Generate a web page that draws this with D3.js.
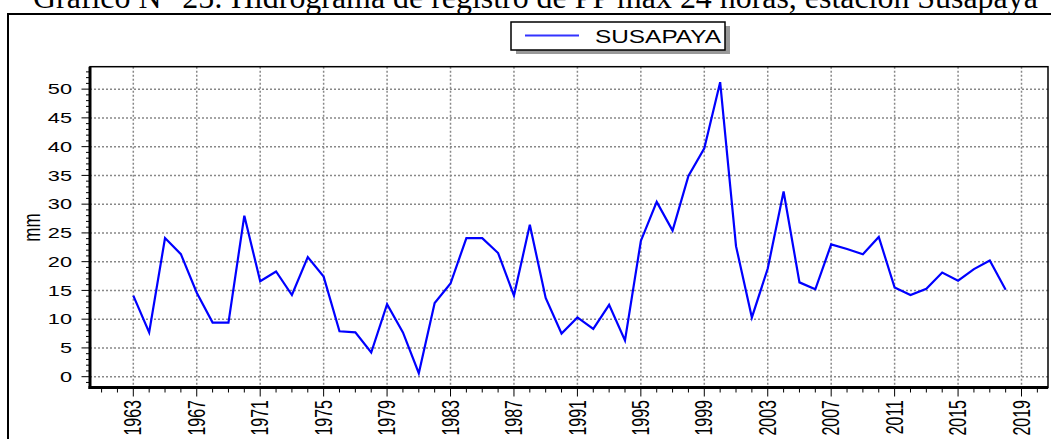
<!DOCTYPE html>
<html>
<head>
<meta charset="utf-8">
<script src="https://cdn.jsdelivr.net/npm/d3@7"></script>
<style>
  body { margin: 0; background: #fff; }
  svg { display: block; }
</style>
</head>
<body>
<div id="chart"></div>
<script>
// Data: annual max 24h precipitation (mm), station Susapaya
const years = d3.range(1963, 2019);
const values = [
  14.1, 7.7, 24.1, 21.3, 14.6, 9.4, 9.4, 28.0, 16.6, 18.3,
  14.2, 20.8, 17.4, 7.9, 7.7, 4.2, 12.6, 7.7, 0.6, 12.8,
  16.2, 24.1, 24.1, 21.5, 14.1, 26.4, 13.7, 7.5, 10.3, 8.3,
  12.5, 6.3, 23.6, 30.4, 25.4, 34.9, 39.7, 51.2, 22.7, 10.3,
  18.8, 32.2, 16.4, 15.2, 23.0, 22.2, 21.3, 24.3, 15.5, 14.2,
  15.3, 18.1, 16.7, 18.7, 20.2, 15.1
];
const yTicks = [0, 5, 10, 15, 20, 25, 30, 35, 40, 45, 50];
const xTickYears = [1963, 1967, 1971, 1975, 1979, 1983, 1987, 1991, 1995, 1999, 2003, 2007, 2011, 2015, 2019];
const seriesName = "SUSAPAYA";
const title = "Gráfico N° 25: Hidrograma de registro de PP max 24 horas, estación Susapaya";

const W = 1051, H = 439;
const stretch = 1.45; // text in the source is squashed wide

const svg = d3.select("#chart").append("svg")
    .attr("width", W)
    .attr("height", H);

// outer frame
svg.append("rect")
    .attr("x", 8).attr("y", 14)
    .attr("width", 1060).attr("height", 450)
    .attr("fill", "none")
    .attr("stroke", "#000")
    .attr("stroke-width", 2);

// title, sized to fit its width in the reference
const t = svg.append("text")
    .attr("x", 33).attr("y", 7.5)
    .attr("font-family", "'Liberation Serif', 'Times New Roman', serif")
    .attr("font-size", 20)
    .attr("fill", "#000")
    .text(title);
const tw = t.node().getComputedTextLength();
t.attr("font-size", 20 * 1005 / tw);

// plot area
const pL = 90, pR = 1048, pT = 66.7, pB = 387.5;

const x = d3.scaleLinear().domain([1960.27, 2020.67]).range([pL, pR]);
const y = d3.scaleLinear().domain([-1.88, 53.9]).range([pB, pT]);

// grid
svg.append("g")
    .selectAll("line")
    .data(yTicks)
    .join("line")
    .attr("x1", pL).attr("x2", pR)
    .attr("y1", d => y(d)).attr("y2", d => y(d))
    .attr("stroke", "#888")
    .attr("stroke-width", 1.5)
    .attr("stroke-dasharray", "2,2");

svg.append("g")
    .selectAll("line")
    .data(xTickYears)
    .join("line")
    .attr("x1", d => x(d)).attr("x2", d => x(d))
    .attr("y1", pT).attr("y2", pB)
    .attr("stroke", "#888")
    .attr("stroke-width", 1.5)
    .attr("stroke-dasharray", "2,2");

// plot border (thin top/right)
svg.append("rect")
    .attr("x", pL).attr("y", pT)
    .attr("width", pR - pL).attr("height", pB - pT)
    .attr("fill", "none")
    .attr("stroke", "#000")
    .attr("stroke-width", 1.5);

// y ticks: every 1 mm, major every 5
const yMinor = d3.range(-1, 54);
svg.append("g")
    .selectAll("line")
    .data(yMinor)
    .join("line")
    .attr("x1", d => d % 5 === 0 ? 81.5 : 86)
    .attr("x2", pL)
    .attr("y1", d => y(d)).attr("y2", d => y(d))
    .attr("stroke", "#000")
    .attr("stroke-width", 1);

svg.append("g")
    .selectAll("text")
    .data(yTicks)
    .join("text")
    .attr("transform", d => `translate(72,${y(d)}) scale(${stretch},1)`)
    .attr("text-anchor", "end")
    .attr("dominant-baseline", "central")
    .attr("font-family", "'Liberation Sans', Arial, sans-serif")
    .attr("font-size", 15)
    .attr("fill", "#000")
    .text(d => d);

// x ticks: every year, major on labelled years
const xMinor = d3.range(1961, 2021);
svg.append("g")
    .selectAll("line")
    .data(xMinor)
    .join("line")
    .attr("x1", d => x(d)).attr("x2", d => x(d))
    .attr("y1", pB)
    .attr("y2", d => xTickYears.includes(d) ? 396.5 : 392.5)
    .attr("stroke", "#000")
    .attr("stroke-width", 1);

svg.append("g")
    .selectAll("text")
    .data(xTickYears)
    .join("text")
    .attr("transform", d => `translate(${x(d)},400) scale(${stretch},1) rotate(-90)`)
    .attr("text-anchor", "end")
    .attr("dominant-baseline", "central")
    .attr("font-family", "'Liberation Sans', Arial, sans-serif")
    .attr("font-size", 16)
    .attr("fill", "#000")
    .text(d => d);

// thick left and bottom axis lines
svg.append("line")
    .attr("x1", pL).attr("x2", pL)
    .attr("y1", pT).attr("y2", pB + 1.5)
    .attr("stroke", "#000").attr("stroke-width", 3);
svg.append("line")
    .attr("x1", pL - 1.5).attr("x2", pR)
    .attr("y1", pB).attr("y2", pB)
    .attr("stroke", "#000").attr("stroke-width", 3);

// y axis title
svg.append("text")
    .attr("transform", `translate(31.5,227.5) scale(${stretch},1) rotate(-90)`)
    .attr("text-anchor", "middle")
    .attr("dominant-baseline", "central")
    .attr("font-family", "'Liberation Sans', Arial, sans-serif")
    .attr("font-size", 17)
    .attr("fill", "#000")
    .text("mm");

// series line
const line = d3.line()
    .x((d, i) => x(years[i]))
    .y(d => y(d));

svg.append("path")
    .datum(values)
    .attr("d", line)
    .attr("fill", "none")
    .attr("stroke", "#0000ff")
    .attr("stroke-width", 2.2)
    .attr("stroke-linejoin", "miter");

// legend with drop shadow
const lg = svg.append("g");
lg.append("rect")
    .attr("x", 516).attr("y", 26)
    .attr("width", 214).attr("height", 28)
    .attr("fill", "#999");
lg.append("rect")
    .attr("x", 511).attr("y", 22)
    .attr("width", 214).attr("height", 28)
    .attr("fill", "#fff")
    .attr("stroke", "#000")
    .attr("stroke-width", 1.5);
lg.append("line")
    .attr("x1", 525).attr("x2", 579)
    .attr("y1", 35.5).attr("y2", 35.5)
    .attr("stroke", "#3333ff")
    .attr("stroke-width", 2);
lg.append("text")
    .attr("x", 595).attr("y", 43)
    .attr("font-family", "'Liberation Sans', Arial, sans-serif")
    .attr("font-size", 19)
    .attr("textLength", 126)
    .attr("lengthAdjust", "spacingAndGlyphs")
    .attr("fill", "#000")
    .text(seriesName);
</script>
</body>
</html>
